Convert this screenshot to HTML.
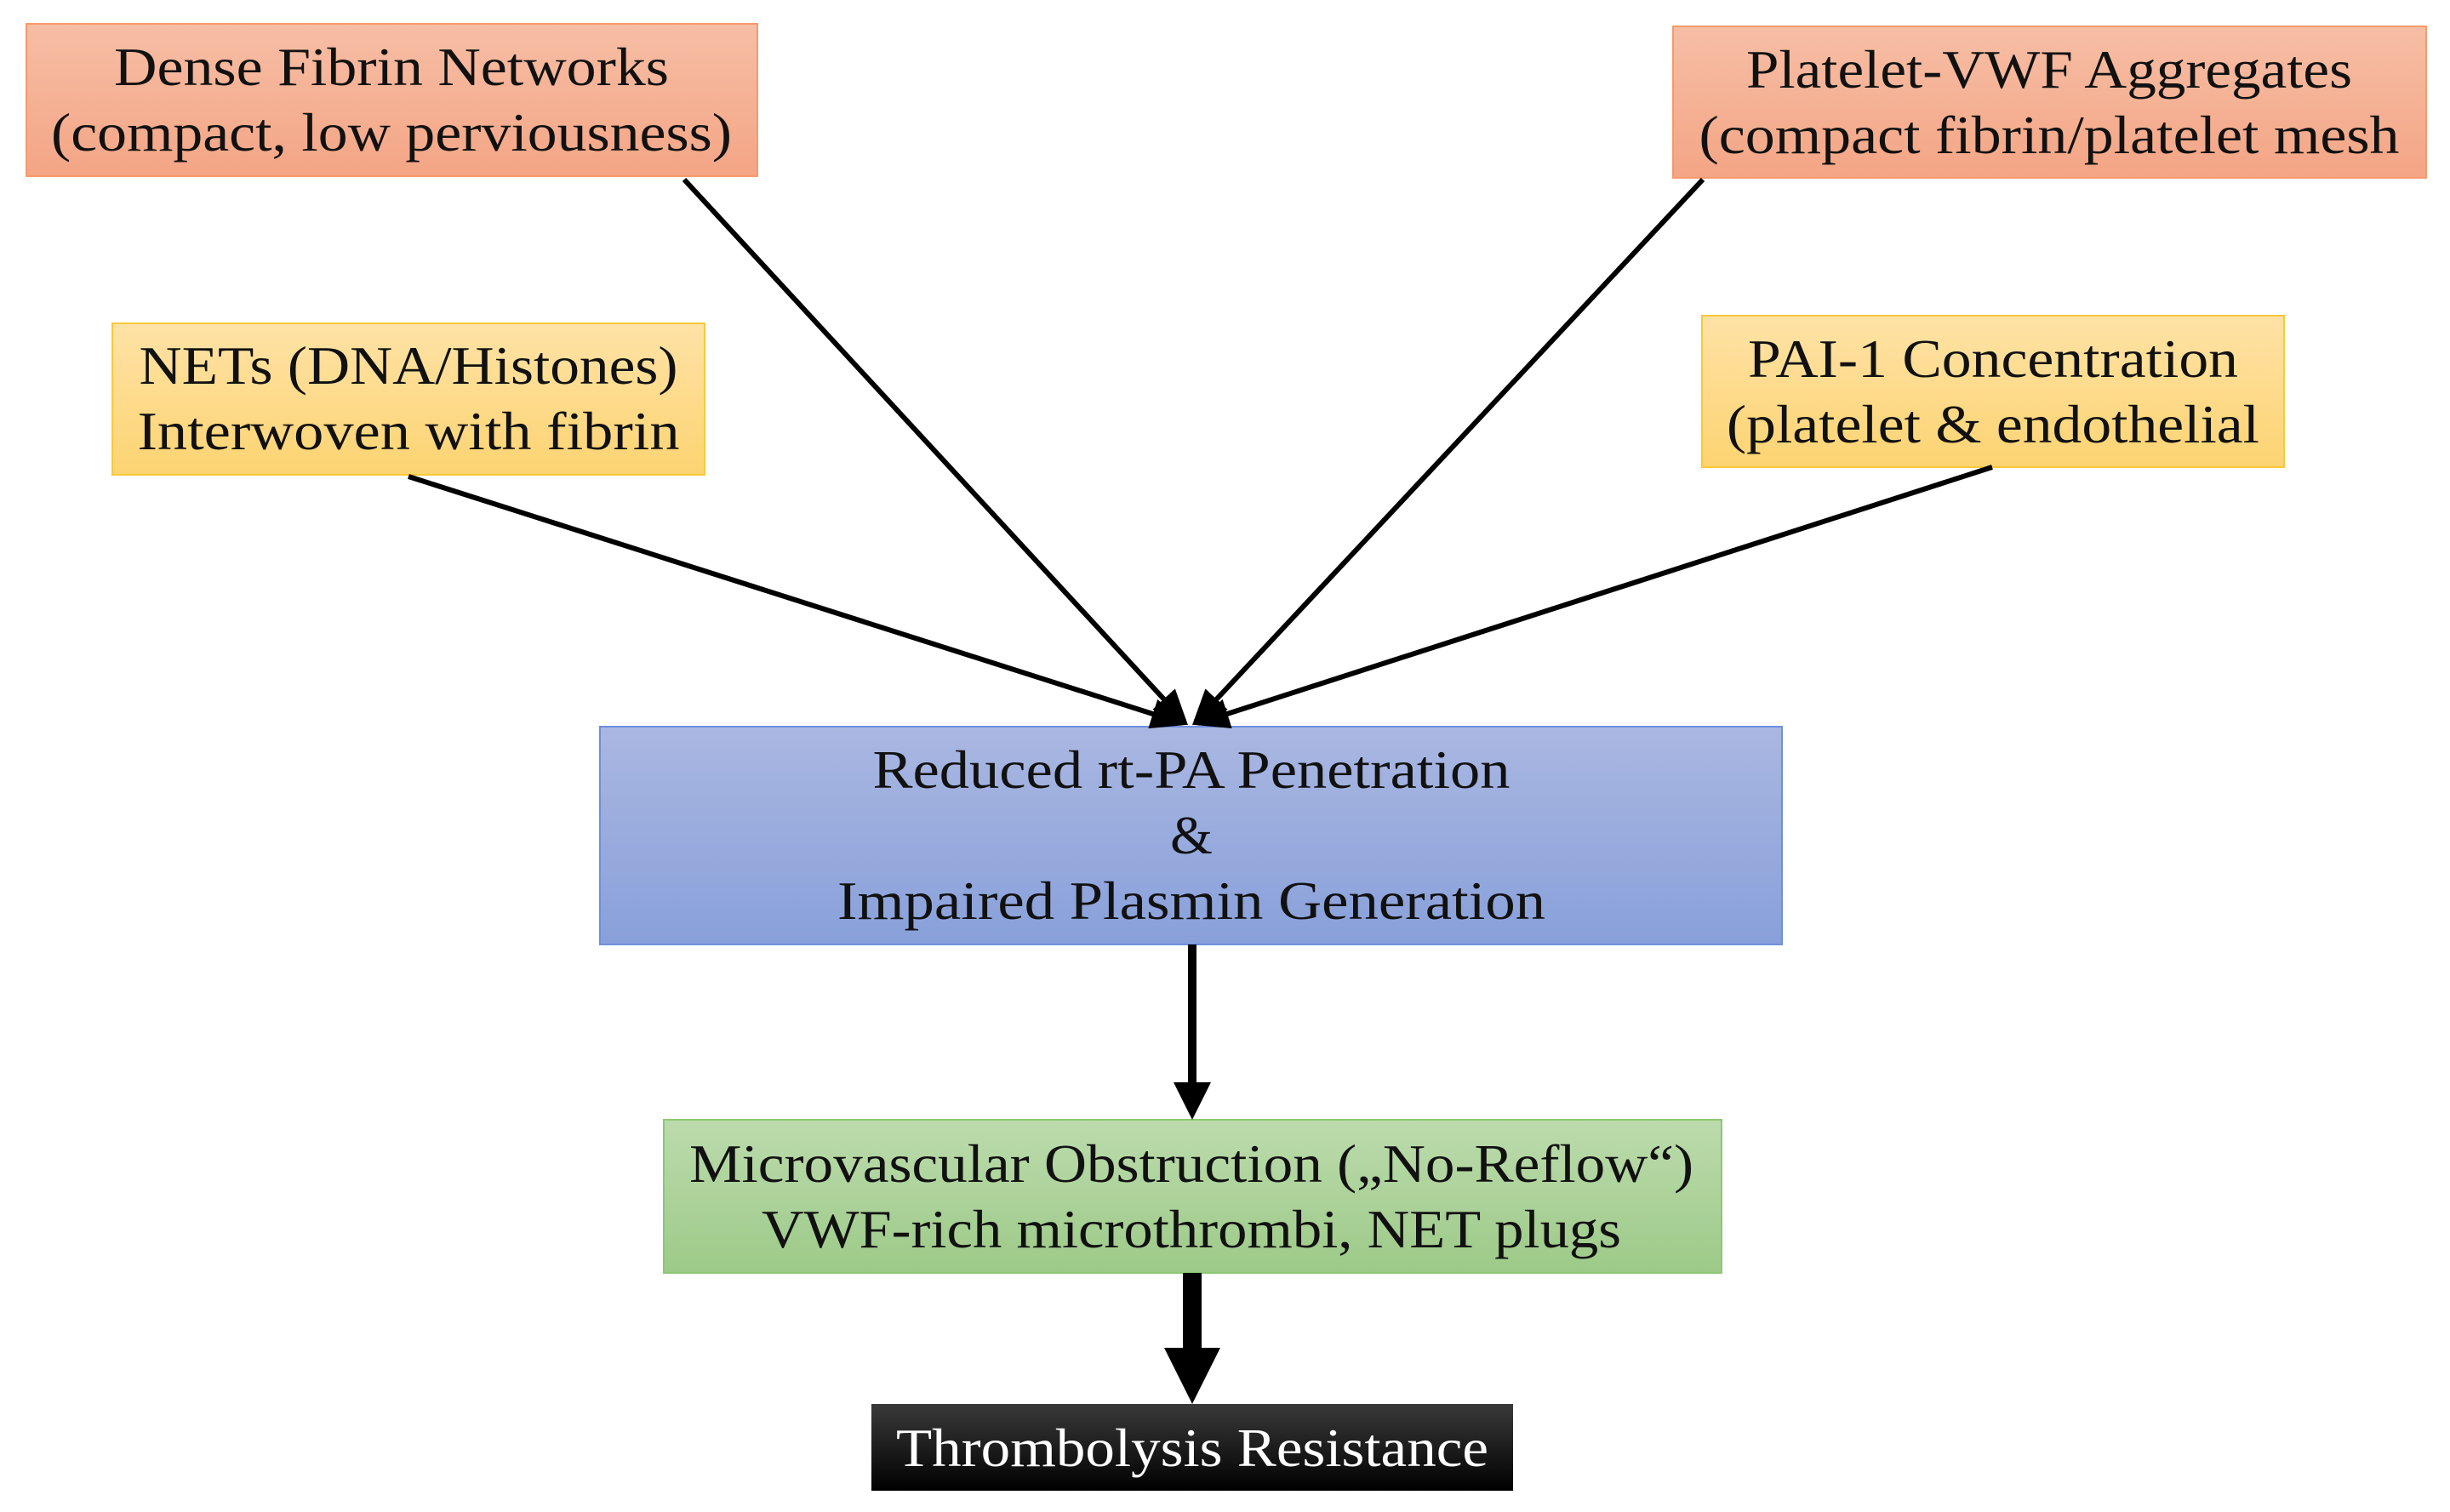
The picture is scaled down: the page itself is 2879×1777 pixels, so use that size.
<!DOCTYPE html>
<html><head><meta charset="utf-8"><style>
html,body{margin:0;padding:0;background:#fff}
svg{display:block}
text{font-family:"Liberation Serif",serif;font-size:64px;fill:#111;text-anchor:middle}
</style></head><body>
<svg width="2879" height="1777" viewBox="0 0 2879 1777" xmlns="http://www.w3.org/2000/svg">
<defs>
<linearGradient id="go" x1="0" y1="0" x2="0" y2="1"><stop offset="0" stop-color="#f6bea5"/><stop offset="1" stop-color="#f4a585"/></linearGradient>
<linearGradient id="gy" x1="0" y1="0" x2="0" y2="1"><stop offset="0" stop-color="#fee2a6"/><stop offset="1" stop-color="#fdd472"/></linearGradient>
<linearGradient id="gb" x1="0" y1="0" x2="0" y2="1"><stop offset="0" stop-color="#aab7e1"/><stop offset="1" stop-color="#88a0da"/></linearGradient>
<linearGradient id="gg" x1="0" y1="0" x2="0" y2="1"><stop offset="0" stop-color="#bcdbad"/><stop offset="1" stop-color="#9dca88"/></linearGradient>
<linearGradient id="gk" x1="0" y1="0" x2="0" y2="1"><stop offset="0" stop-color="#3a3a3a"/><stop offset="1" stop-color="#000"/></linearGradient>
<marker id="ah" markerWidth="7" markerHeight="6" refX="6" refY="3" orient="auto" markerUnits="strokeWidth"><path d="M0,0 L7,3 L0,6 z" fill="#000"/></marker>
</defs>
<rect x="31" y="28" width="859" height="179" fill="url(#go)" stroke="#f79a6b" stroke-width="2"/>
<rect x="1966" y="31" width="885" height="178" fill="url(#go)" stroke="#f79a6b" stroke-width="2"/>
<rect x="132" y="380" width="696" height="178" fill="url(#gy)" stroke="#fcc83a" stroke-width="2"/>
<rect x="2000" y="371" width="684" height="178" fill="url(#gy)" stroke="#fcc83a" stroke-width="2"/>
<rect x="705" y="854" width="1389" height="256" fill="url(#gb)" stroke="#6f8fdc" stroke-width="2"/>
<rect x="780" y="1316" width="1243" height="180" fill="url(#gg)" stroke="#8cc873" stroke-width="2"/>
<rect x="1024" y="1650" width="754" height="102" fill="url(#gk)"/>
<g stroke="#000" stroke-width="6" fill="none">
<line x1="804" y1="211" x2="1392" y2="848" marker-end="url(#ah)"/>
<line x1="480" y1="560" x2="1389" y2="850" marker-end="url(#ah)"/>
<line x1="2001" y1="211" x2="1405" y2="848" marker-end="url(#ah)"/>
<line x1="2341" y1="549" x2="1408" y2="850" marker-end="url(#ah)"/>
<line x1="1401" y1="1110" x2="1401" y2="1280" stroke-width="10"/>
<line x1="1401" y1="1496" x2="1401" y2="1590" stroke-width="22"/>
</g>
<polygon points="1379,1272 1423,1272 1401,1316" fill="#000"/>
<polygon points="1368,1584 1434,1584 1401,1650" fill="#000"/>
<text x="460" y="100" textLength="652" lengthAdjust="spacingAndGlyphs">Dense Fibrin Networks</text>
<text x="460" y="177" textLength="800" lengthAdjust="spacingAndGlyphs">(compact, low perviousness)</text>
<text x="2408" y="103" textLength="712" lengthAdjust="spacingAndGlyphs">Platelet-VWF Aggregates</text>
<text x="2408" y="180" textLength="823" lengthAdjust="spacingAndGlyphs">(compact fibrin/platelet mesh</text>
<text x="480" y="451" textLength="633" lengthAdjust="spacingAndGlyphs">NETs (DNA/Histones)</text>
<text x="480" y="528" textLength="637" lengthAdjust="spacingAndGlyphs">Interwoven with fibrin</text>
<text x="2342" y="443" textLength="576" lengthAdjust="spacingAndGlyphs">PAI-1 Concentration</text>
<text x="2342" y="520" textLength="626" lengthAdjust="spacingAndGlyphs">(platelet &amp; endothelial</text>
<text x="1400" y="926" textLength="749" lengthAdjust="spacingAndGlyphs">Reduced rt-PA Penetration</text>
<text x="1400" y="1003">&amp;</text>
<text x="1400" y="1080" textLength="832" lengthAdjust="spacingAndGlyphs">Impaired Plasmin Generation</text>
<text x="1400" y="1389" textLength="1180" lengthAdjust="spacingAndGlyphs">Microvascular Obstruction („No-Reflow“)</text>
<text x="1400" y="1466" textLength="1010" lengthAdjust="spacingAndGlyphs">VWF-rich microthrombi, NET plugs</text>
<text x="1401" y="1723" textLength="696" lengthAdjust="spacingAndGlyphs" style="fill:#fff">Thrombolysis Resistance</text>
</svg>
</body></html>
